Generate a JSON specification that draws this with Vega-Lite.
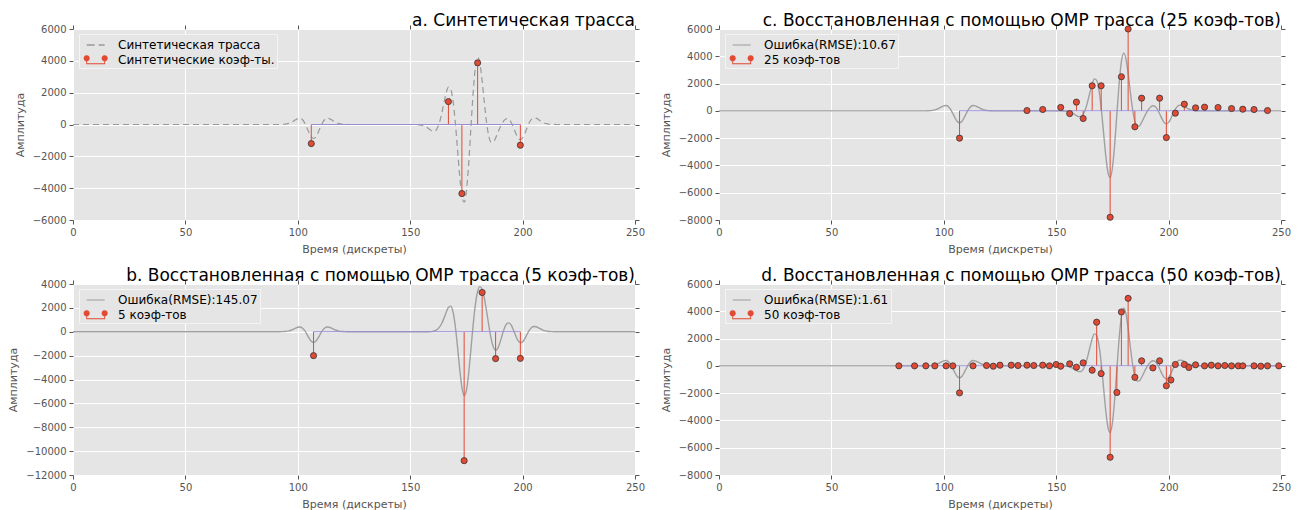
{
 "$schema": "https://vega.github.io/schema/vega-lite/v6.json",
 "background": "white",
 "padding": {"left": 7, "top": 12, "right": 5, "bottom": 1},
 "columns": 2,
 "spacing": {"row": 13, "column": 15},
 "resolve": {"scale": {"color": "independent", "shape": "independent", "x": "independent", "y": "independent"}, "legend": {"color": "independent", "shape": "independent"}},
 "config": {
  "view": {"fill": "#E5E5E5", "stroke": null},
  "font": "DejaVu Sans",
  "axis": {"domain": false, "grid": true, "gridColor": "#FFFFFF", "gridOpacity": 1, "gridWidth": 1, "tickColor": "#555555", "tickSize": 4, "tickWidth": 1, "labelColor": "#555555", "labelFont": "DejaVu Sans", "labelFontSize": 10, "labelPadding": 3, "titleFont": "DejaVu Sans", "titleFontSize": 11, "titleColor": "#555555", "titleFontWeight": "normal", "labelFlush": false, "labelOverlap": false, "tickCount": 20},
  "axisX": {"titlePadding": 6},
  "axisY": {"titlePadding": 7},
  "title": {"anchor": "end", "frame": "group", "fontSize": 17, "font": "DejaVu Sans", "fontWeight": "normal", "color": "#000000", "offset": -4, "dy": 2, "baseline": "alphabetic"},
  "legend": {"labelFont": "DejaVu Sans", "labelFontSize": 12, "labelColor": "#000000", "padding": 2, "rowPadding": 0, "symbolSize": 324, "symbolStrokeWidth": 0, "symbolOpacity": 1, "labelOffset": 19, "fillColor": "#E5E5E5", "strokeColor": "#F4F4F4", "cornerRadius": 0}
 },
 "datasets": {
  "trace": [
   {"t":0,"v":0},{"t":90,"v":0},{"t":91,"v":1},{"t":92,"v":2},{"t":93,"v":7},{"t":94,"v":16},{"t":95,"v":34},{"t":96,"v":69},{"t":97,"v":125},{"t":98,"v":203},{"t":99,"v":293},{"t":100,"v":370},{"t":101,"v":390},{"t":102,"v":312},{"t":103,"v":111},{"t":104,"v":-190},{"t":105,"v":-521},{"t":106,"v":-781},{"t":107,"v":-880},{"t":108,"v":-781},{"t":109,"v":-521},{"t":110,"v":-190},{"t":111,"v":111},{"t":112,"v":312},{"t":113,"v":390},{"t":114,"v":370},{"t":115,"v":293},{"t":116,"v":203},{"t":117,"v":125},{"t":118,"v":69},{"t":119,"v":34},{"t":120,"v":16},{"t":121,"v":7},{"t":122,"v":2},{"t":123,"v":0},
   {"t":150,"v":0},{"t":151,"v":-1},{"t":152,"v":-3},{"t":153,"v":-8},{"t":154,"v":-19},{"t":155,"v":-41},{"t":156,"v":-83},{"t":157,"v":-149},{"t":158,"v":-241},{"t":159,"v":-343},{"t":160,"v":-420},{"t":161,"v":-412},{"t":162,"v":-250},{"t":163,"v":114},{"t":164,"v":676},{"t":165,"v":1352},{"t":166,"v":1978},{"t":167,"v":2342},{"t":168,"v":2237},{"t":169,"v":1530},{"t":170,"v":227},{"t":171,"v":-1476},{"t":172,"v":-3206},{"t":173,"v":-4486},{"t":174,"v":-4884},{"t":175,"v":-4182},{"t":176,"v":-2488},{"t":177,"v":-224},{"t":178,"v":2002},{"t":179,"v":3607},{"t":180,"v":4231},{"t":181,"v":3850},{"t":182,"v":2741},{"t":183,"v":1347},{"t":184,"v":95},{"t":185,"v":-749},{"t":186,"v":-1118},{"t":187,"v":-1100},{"t":188,"v":-848},{"t":189,"v":-511},{"t":190,"v":-180},{"t":191,"v":96},{"t":192,"v":289},{"t":193,"v":373},{"t":194,"v":316},{"t":195,"v":113},{"t":196,"v":-209},{"t":197,"v":-565},{"t":198,"v":-846},{"t":199,"v":-953},{"t":200,"v":-846},{"t":201,"v":-565},{"t":202,"v":-206},{"t":203,"v":121},{"t":204,"v":337},{"t":205,"v":423},{"t":206,"v":400},{"t":207,"v":318},{"t":208,"v":220},{"t":209,"v":135},{"t":210,"v":75},{"t":211,"v":37},{"t":212,"v":17},{"t":213,"v":7},{"t":214,"v":3},{"t":215,"v":1},{"t":216,"v":0},{"t":250,"v":0}
  ],
  "traceB": [
   {"t":0,"v":0},{"t":90,"v":0},{"t":91,"v":1},{"t":92,"v":3},{"t":93,"v":7},{"t":94,"v":16},{"t":95,"v":35},{"t":96,"v":70},{"t":97,"v":128},{"t":98,"v":208},{"t":99,"v":300},{"t":100,"v":378},{"t":101,"v":399},{"t":102,"v":319},{"t":103,"v":114},{"t":104,"v":-194},{"t":105,"v":-533},{"t":106,"v":-799},{"t":107,"v":-900},{"t":108,"v":-799},{"t":109,"v":-533},{"t":110,"v":-194},{"t":111,"v":114},{"t":112,"v":319},{"t":113,"v":399},{"t":114,"v":378},{"t":115,"v":300},{"t":116,"v":208},{"t":117,"v":128},{"t":118,"v":70},{"t":119,"v":35},{"t":120,"v":16},{"t":121,"v":7},{"t":122,"v":3},{"t":123,"v":1},{"t":124,"v":0},
   {"t":156,"v":0},{"t":157,"v":2},{"t":158,"v":5},{"t":159,"v":14},{"t":160,"v":36},{"t":161,"v":86},{"t":162,"v":190},{"t":163,"v":381},{"t":164,"v":689},{"t":165,"v":1121},{"t":166,"v":1620},{"t":167,"v":2037},{"t":168,"v":2144},{"t":169,"v":1694},{"t":170,"v":557},{"t":171,"v":-1166},{"t":172,"v":-3089},{"t":173,"v":-4654},{"t":174,"v":-5347},{"t":175,"v":-4920},{"t":176,"v":-3496},{"t":177,"v":-1495},{"t":178,"v":572},{"t":179,"v":2273},{"t":180,"v":3370},{"t":181,"v":3780},{"t":182,"v":3550},{"t":183,"v":2794},{"t":184,"v":1697},{"t":185,"v":489},{"t":186,"v":-579},{"t":187,"v":-1298},{"t":188,"v":-1553},{"t":189,"v":-1365},{"t":190,"v":-858},{"t":191,"v":-226},{"t":192,"v":339},{"t":193,"v":687},{"t":194,"v":746},{"t":195,"v":526},{"t":196,"v":111},{"t":197,"v":-365},{"t":198,"v":-748},{"t":199,"v":-924},{"t":200,"v":-851},{"t":201,"v":-576},{"t":202,"v":-209},{"t":203,"v":130},{"t":204,"v":356},{"t":205,"v":445},{"t":206,"v":421},{"t":207,"v":334},{"t":208,"v":231},{"t":209,"v":142},{"t":210,"v":79},{"t":211,"v":39},{"t":212,"v":18},{"t":213,"v":7},{"t":214,"v":3},{"t":215,"v":1},{"t":216,"v":0},{"t":250,"v":0}
  ],
  "coefA": [{"t":106,"v":-1200},{"t":167,"v":1440},{"t":173,"v":-4340},{"t":180,"v":3875},{"t":199,"v":-1300}],
  "coefB": [{"t":107,"v":-2000},{"t":174,"v":-10800},{"t":182,"v":3290},{"t":188,"v":-2250},{"t":199,"v":-2230}],
  "coefC": [{"t":107,"v":-2000},{"t":137,"v":20},{"t":144,"v":100},{"t":152,"v":250},{"t":156,"v":-200},{"t":159,"v":640},{"t":162,"v":-560},{"t":166,"v":1840},{"t":170,"v":1840},{"t":174,"v":-7800},{"t":179,"v":2500},{"t":182,"v":6000},{"t":185,"v":-1170},{"t":188,"v":930},{"t":196,"v":930},{"t":199,"v":-1960},{"t":203,"v":-170},{"t":207,"v":490},{"t":212,"v":220},{"t":216,"v":270},{"t":222,"v":245},{"t":228,"v":171},{"t":233,"v":122},{"t":238,"v":98},{"t":244,"v":24}],
  "coefD": [{"t":80,"v":0},{"t":87,"v":0},{"t":92,"v":0},{"t":96,"v":0},{"t":101,"v":0},{"t":104,"v":0},{"t":107,"v":-1980},{"t":113,"v":0},{"t":119,"v":25},{"t":122,"v":-25},{"t":125,"v":50},{"t":130,"v":50},{"t":133,"v":25},{"t":137,"v":50},{"t":140,"v":25},{"t":144,"v":50},{"t":147,"v":0},{"t":150,"v":100},{"t":152,"v":-25},{"t":156,"v":150},{"t":159,"v":-100},{"t":162,"v":220},{"t":166,"v":-320},{"t":168,"v":3200},{"t":170,"v":-570},{"t":174,"v":-6700},{"t":177,"v":-1950},{"t":179,"v":3950},{"t":182,"v":4950},{"t":185,"v":-840},{"t":188,"v":370},{"t":193,"v":-150},{"t":196,"v":370},{"t":199,"v":-1460},{"t":201,"v":-1040},{"t":203,"v":100},{"t":207,"v":100},{"t":209,"v":-120},{"t":212,"v":75},{"t":216,"v":0},{"t":219,"v":50},{"t":222,"v":0},{"t":225,"v":25},{"t":228,"v":0},{"t":231,"v":0},{"t":233,"v":0},{"t":238,"v":0},{"t":241,"v":-25},{"t":244,"v":0},{"t":249,"v":0}],
  "legA": [{"s":"Синтетическая трасса"},{"s":"Синтетические коэф-ты."}],
  "legB": [{"s":"Ошибка(RMSE):145.07"},{"s":"5 коэф-тов"}],
  "legC": [{"s":"Ошибка(RMSE):10.67"},{"s":"25 коэф-тов"}],
  "legD": [{"s":"Ошибка(RMSE):1.61"},{"s":"50 коэф-тов"}]
 },
 "concat": [
  {
   "width": 562, "height": 191,
   "view": {"fill": "#E5E5E5", "stroke": null},
   "title": {"text": "a. Синтетическая трасса"},
   "resolve": {"axis": {"x": "independent", "y": "independent"}},
   "layer": [
    {"data": {"name": "trace"}, "mark": {"type": "line", "color": "#999999", "strokeWidth": 1.2, "strokeDash": [6, 4], "interpolate": "monotone"},
     "encoding": {"x": {"field": "t", "type": "quantitative", "scale": {"domain": [0, 250], "nice": false, "zero": false}, "axis": {"values": [0, 50, 100, 150, 200, 250], "tickCount": 20, "format": "d", "title": "Время (дискреты)", "grid": true, "labelOverlap": false}},
                  "y": {"field": "v", "type": "quantitative", "scale": {"domain": [-6000, 6000], "nice": false}, "axis": {"values": [-6000, -4000, -2000, 0, 2000, 4000, 6000], "tickCount": 20, "format": "d", "title": "Амплитуда", "grid": true, "labelOverlap": false}}}},
    {"data": {"name": "coefA"}, "mark": {"type": "point", "opacity": 0},
     "encoding": {"x": {"field": "t", "type": "quantitative", "axis": {"orient": "top", "values": [0, 50, 100, 150, 200, 250], "tickCount": 20, "labels": false, "title": null, "grid": false}},
                  "y": {"field": "v", "type": "quantitative", "axis": {"orient": "right", "values": [-6000, -4000, -2000, 0, 2000, 4000, 6000], "tickCount": 20, "labels": false, "title": null, "grid": false}}}},
    {"data": {"name": "coefA"}, "mark": {"type": "rule", "color": "#E24A33", "strokeWidth": 1},
     "encoding": {"x": {"field": "t", "type": "quantitative", "axis": null}, "y": {"field": "v", "type": "quantitative", "axis": null}, "y2": {"datum": 0}}},
    {"data": {"name": "coefA"}, "mark": {"type": "rule", "color": "#988ED5", "strokeWidth": 1},
     "encoding": {"x": {"aggregate": "min", "field": "t", "type": "quantitative", "axis": null}, "x2": {"aggregate": "max", "field": "t"}, "y": {"datum": 0, "axis": null}}},
    {"data": {"name": "coefA"}, "mark": {"type": "point", "shape": "circle", "filled": true, "fill": "#E24A33", "stroke": "#333333", "strokeWidth": 0.8, "size": 38, "opacity": 1},
     "encoding": {"x": {"field": "t", "type": "quantitative", "axis": null}, "y": {"field": "v", "type": "quantitative", "axis": null}}},
    {"data": {"name": "legA"}, "mark": {"type": "point", "filled": true, "opacity": 0},
     "encoding": {
      "color": {"field": "s", "type": "nominal", "scale": {"domain": ["Синтетическая трасса", "Синтетические коэф-ты."], "range": ["#999999", "#E24A33"]}, "legend": {"orient": "none", "legendX": 6, "legendY": 5, "title": null}},
      "shape": {"field": "s", "type": "nominal", "scale": {"domain": ["Синтетическая трасса", "Синтетические коэф-ты."], "range": ["M-0.37,-0.07H0.52V0.07H-0.37Z M0.97,-0.07H1.63V0.07H0.97Z", "M-0.025,-0.19L-0.071,-0.017L-0.197,0.109L-0.37,0.155L-0.543,0.109L-0.669,-0.017L-0.715,-0.19L-0.669,-0.363L-0.543,-0.489L-0.37,-0.535L-0.197,-0.489L-0.071,-0.363Z M1.975,-0.19L1.929,-0.017L1.803,0.109L1.63,0.155L1.457,0.109L1.331,-0.017L1.285,-0.19L1.331,-0.363L1.457,-0.489L1.63,-0.535L1.803,-0.489L1.929,-0.363Z M-0.42,0.15H-0.32V0.36H-0.42Z M1.58,0.15H1.68V0.36H1.58Z M-0.42,0.36H1.68V0.46H-0.42Z"]}, "legend": {"orient": "none", "legendX": 6, "legendY": 5, "title": null}}}}
   ]
  },
  {
   "width": 562, "height": 191,
   "view": {"fill": "#E5E5E5", "stroke": null},
   "title": {"text": "c. Восстановленная с помощью OMP трасса (25 коэф-тов)"},
   "resolve": {"axis": {"x": "independent", "y": "independent"}},
   "layer": [
    {"data": {"name": "trace"}, "mark": {"type": "line", "color": "#A0A0A0", "strokeWidth": 1.4, "interpolate": "monotone"},
     "encoding": {"x": {"field": "t", "type": "quantitative", "scale": {"domain": [0, 250], "nice": false, "zero": false}, "axis": {"values": [0, 50, 100, 150, 200, 250], "tickCount": 20, "format": "d", "title": "Время (дискреты)", "grid": true, "labelOverlap": false}},
                  "y": {"field": "v", "type": "quantitative", "scale": {"domain": [-8000, 6000], "nice": false}, "axis": {"values": [-8000, -6000, -4000, -2000, 0, 2000, 4000, 6000], "tickCount": 20, "format": "d", "title": "Амплитуда", "grid": true, "labelOverlap": false}}}},
    {"data": {"name": "coefC"}, "mark": {"type": "point", "opacity": 0},
     "encoding": {"x": {"field": "t", "type": "quantitative", "axis": {"orient": "top", "values": [0, 50, 100, 150, 200, 250], "tickCount": 20, "labels": false, "title": null, "grid": false}},
                  "y": {"field": "v", "type": "quantitative", "axis": {"orient": "right", "values": [-8000, -6000, -4000, -2000, 0, 2000, 4000, 6000], "tickCount": 20, "labels": false, "title": null, "grid": false}}}},
    {"data": {"name": "coefC"}, "mark": {"type": "rule", "color": "#E24A33", "strokeWidth": 1},
     "encoding": {"x": {"field": "t", "type": "quantitative", "axis": null}, "y": {"field": "v", "type": "quantitative", "axis": null}, "y2": {"datum": 0}}},
    {"data": {"name": "coefC"}, "mark": {"type": "rule", "color": "#988ED5", "strokeWidth": 1},
     "encoding": {"x": {"aggregate": "min", "field": "t", "type": "quantitative", "axis": null}, "x2": {"aggregate": "max", "field": "t"}, "y": {"datum": 0, "axis": null}}},
    {"data": {"name": "coefC"}, "mark": {"type": "point", "shape": "circle", "filled": true, "fill": "#E24A33", "stroke": "#333333", "strokeWidth": 0.8, "size": 38, "opacity": 1},
     "encoding": {"x": {"field": "t", "type": "quantitative", "axis": null}, "y": {"field": "v", "type": "quantitative", "axis": null}}},
    {"data": {"name": "legC"}, "mark": {"type": "point", "filled": true, "opacity": 0},
     "encoding": {
      "color": {"field": "s", "type": "nominal", "scale": {"domain": ["Ошибка(RMSE):10.67", "25 коэф-тов"], "range": ["#A0A0A0", "#E24A33"]}, "legend": {"orient": "none", "legendX": 6, "legendY": 5, "title": null}},
      "shape": {"field": "s", "type": "nominal", "scale": {"domain": ["Ошибка(RMSE):10.67", "25 коэф-тов"], "range": ["M-0.37,-0.06H1.63V0.06H-0.37Z", "M-0.025,-0.19L-0.071,-0.017L-0.197,0.109L-0.37,0.155L-0.543,0.109L-0.669,-0.017L-0.715,-0.19L-0.669,-0.363L-0.543,-0.489L-0.37,-0.535L-0.197,-0.489L-0.071,-0.363Z M1.975,-0.19L1.929,-0.017L1.803,0.109L1.63,0.155L1.457,0.109L1.331,-0.017L1.285,-0.19L1.331,-0.363L1.457,-0.489L1.63,-0.535L1.803,-0.489L1.929,-0.363Z M-0.42,0.15H-0.32V0.36H-0.42Z M1.58,0.15H1.68V0.36H1.58Z M-0.42,0.36H1.68V0.46H-0.42Z"]}, "legend": {"orient": "none", "legendX": 6, "legendY": 5, "title": null}}}}
   ]
  },
  {
   "width": 562, "height": 191,
   "view": {"fill": "#E5E5E5", "stroke": null},
   "title": {"text": "b. Восстановленная с помощью OMP трасса (5 коэф-тов)"},
   "resolve": {"axis": {"x": "independent", "y": "independent"}},
   "layer": [
    {"data": {"name": "traceB"}, "mark": {"type": "line", "color": "#A0A0A0", "strokeWidth": 1.4, "interpolate": "monotone"},
     "encoding": {"x": {"field": "t", "type": "quantitative", "scale": {"domain": [0, 250], "nice": false, "zero": false}, "axis": {"values": [0, 50, 100, 150, 200, 250], "tickCount": 20, "format": "d", "title": "Время (дискреты)", "grid": true, "labelOverlap": false}},
                  "y": {"field": "v", "type": "quantitative", "scale": {"domain": [-12000, 4000], "nice": false}, "axis": {"values": [-12000, -10000, -8000, -6000, -4000, -2000, 0, 2000, 4000], "tickCount": 20, "format": "d", "title": "Амплитуда", "grid": true, "labelOverlap": false}}}},
    {"data": {"name": "coefB"}, "mark": {"type": "point", "opacity": 0},
     "encoding": {"x": {"field": "t", "type": "quantitative", "axis": {"orient": "top", "values": [0, 50, 100, 150, 200, 250], "tickCount": 20, "labels": false, "title": null, "grid": false}},
                  "y": {"field": "v", "type": "quantitative", "axis": {"orient": "right", "values": [-12000, -10000, -8000, -6000, -4000, -2000, 0, 2000, 4000], "tickCount": 20, "labels": false, "title": null, "grid": false}}}},
    {"data": {"name": "coefB"}, "mark": {"type": "rule", "color": "#E24A33", "strokeWidth": 1},
     "encoding": {"x": {"field": "t", "type": "quantitative", "axis": null}, "y": {"field": "v", "type": "quantitative", "axis": null}, "y2": {"datum": 0}}},
    {"data": {"name": "coefB"}, "mark": {"type": "rule", "color": "#988ED5", "strokeWidth": 1},
     "encoding": {"x": {"aggregate": "min", "field": "t", "type": "quantitative", "axis": null}, "x2": {"aggregate": "max", "field": "t"}, "y": {"datum": 0, "axis": null}}},
    {"data": {"name": "coefB"}, "mark": {"type": "point", "shape": "circle", "filled": true, "fill": "#E24A33", "stroke": "#333333", "strokeWidth": 0.8, "size": 38, "opacity": 1},
     "encoding": {"x": {"field": "t", "type": "quantitative", "axis": null}, "y": {"field": "v", "type": "quantitative", "axis": null}}},
    {"data": {"name": "legB"}, "mark": {"type": "point", "filled": true, "opacity": 0},
     "encoding": {
      "color": {"field": "s", "type": "nominal", "scale": {"domain": ["Ошибка(RMSE):145.07", "5 коэф-тов"], "range": ["#A0A0A0", "#E24A33"]}, "legend": {"orient": "none", "legendX": 6, "legendY": 5, "title": null}},
      "shape": {"field": "s", "type": "nominal", "scale": {"domain": ["Ошибка(RMSE):145.07", "5 коэф-тов"], "range": ["M-0.37,-0.06H1.63V0.06H-0.37Z", "M-0.025,-0.19L-0.071,-0.017L-0.197,0.109L-0.37,0.155L-0.543,0.109L-0.669,-0.017L-0.715,-0.19L-0.669,-0.363L-0.543,-0.489L-0.37,-0.535L-0.197,-0.489L-0.071,-0.363Z M1.975,-0.19L1.929,-0.017L1.803,0.109L1.63,0.155L1.457,0.109L1.331,-0.017L1.285,-0.19L1.331,-0.363L1.457,-0.489L1.63,-0.535L1.803,-0.489L1.929,-0.363Z M-0.42,0.15H-0.32V0.36H-0.42Z M1.58,0.15H1.68V0.36H1.58Z M-0.42,0.36H1.68V0.46H-0.42Z"]}, "legend": {"orient": "none", "legendX": 6, "legendY": 5, "title": null}}}}
   ]
  },
  {
   "width": 562, "height": 191,
   "view": {"fill": "#E5E5E5", "stroke": null},
   "title": {"text": "d. Восстановленная с помощью OMP трасса (50 коэф-тов)"},
   "resolve": {"axis": {"x": "independent", "y": "independent"}},
   "layer": [
    {"data": {"name": "trace"}, "mark": {"type": "line", "color": "#A0A0A0", "strokeWidth": 1.4, "interpolate": "monotone"},
     "encoding": {"x": {"field": "t", "type": "quantitative", "scale": {"domain": [0, 250], "nice": false, "zero": false}, "axis": {"values": [0, 50, 100, 150, 200, 250], "tickCount": 20, "format": "d", "title": "Время (дискреты)", "grid": true, "labelOverlap": false}},
                  "y": {"field": "v", "type": "quantitative", "scale": {"domain": [-8000, 6000], "nice": false}, "axis": {"values": [-8000, -6000, -4000, -2000, 0, 2000, 4000, 6000], "tickCount": 20, "format": "d", "title": "Амплитуда", "grid": true, "labelOverlap": false}}}},
    {"data": {"name": "coefD"}, "mark": {"type": "point", "opacity": 0},
     "encoding": {"x": {"field": "t", "type": "quantitative", "axis": {"orient": "top", "values": [0, 50, 100, 150, 200, 250], "tickCount": 20, "labels": false, "title": null, "grid": false}},
                  "y": {"field": "v", "type": "quantitative", "axis": {"orient": "right", "values": [-8000, -6000, -4000, -2000, 0, 2000, 4000, 6000], "tickCount": 20, "labels": false, "title": null, "grid": false}}}},
    {"data": {"name": "coefD"}, "mark": {"type": "rule", "color": "#E24A33", "strokeWidth": 1},
     "encoding": {"x": {"field": "t", "type": "quantitative", "axis": null}, "y": {"field": "v", "type": "quantitative", "axis": null}, "y2": {"datum": 0}}},
    {"data": {"name": "coefD"}, "mark": {"type": "rule", "color": "#988ED5", "strokeWidth": 1},
     "encoding": {"x": {"aggregate": "min", "field": "t", "type": "quantitative", "axis": null}, "x2": {"aggregate": "max", "field": "t"}, "y": {"datum": 0, "axis": null}}},
    {"data": {"name": "coefD"}, "mark": {"type": "point", "shape": "circle", "filled": true, "fill": "#E24A33", "stroke": "#333333", "strokeWidth": 0.8, "size": 38, "opacity": 1},
     "encoding": {"x": {"field": "t", "type": "quantitative", "axis": null}, "y": {"field": "v", "type": "quantitative", "axis": null}}},
    {"data": {"name": "legD"}, "mark": {"type": "point", "filled": true, "opacity": 0},
     "encoding": {
      "color": {"field": "s", "type": "nominal", "scale": {"domain": ["Ошибка(RMSE):1.61", "50 коэф-тов"], "range": ["#A0A0A0", "#E24A33"]}, "legend": {"orient": "none", "legendX": 6, "legendY": 5, "title": null}},
      "shape": {"field": "s", "type": "nominal", "scale": {"domain": ["Ошибка(RMSE):1.61", "50 коэф-тов"], "range": ["M-0.37,-0.06H1.63V0.06H-0.37Z", "M-0.025,-0.19L-0.071,-0.017L-0.197,0.109L-0.37,0.155L-0.543,0.109L-0.669,-0.017L-0.715,-0.19L-0.669,-0.363L-0.543,-0.489L-0.37,-0.535L-0.197,-0.489L-0.071,-0.363Z M1.975,-0.19L1.929,-0.017L1.803,0.109L1.63,0.155L1.457,0.109L1.331,-0.017L1.285,-0.19L1.331,-0.363L1.457,-0.489L1.63,-0.535L1.803,-0.489L1.929,-0.363Z M-0.42,0.15H-0.32V0.36H-0.42Z M1.58,0.15H1.68V0.36H1.58Z M-0.42,0.36H1.68V0.46H-0.42Z"]}, "legend": {"orient": "none", "legendX": 6, "legendY": 5, "title": null}}}}
   ]
  }
 ]
}
